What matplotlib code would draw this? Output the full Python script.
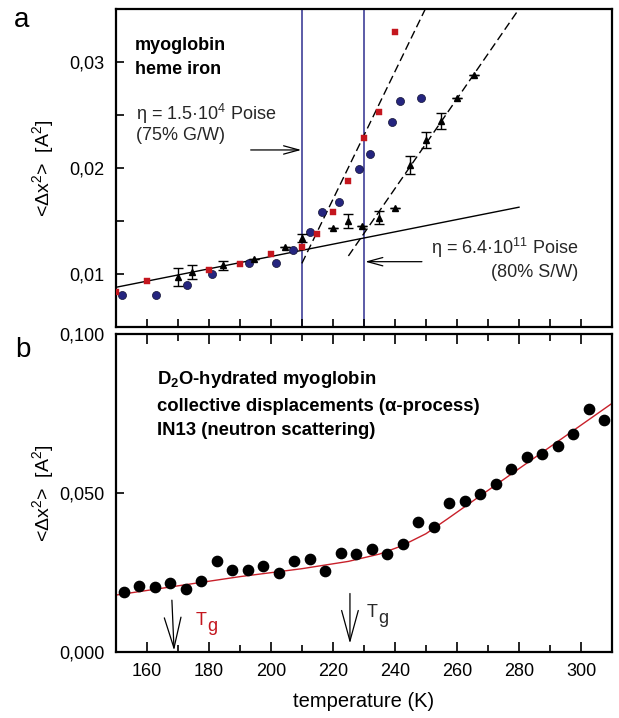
import matplotlib
matplotlib.use('Agg')
import matplotlib.pyplot as plt
from matplotlib.ticker import FixedLocator, FuncFormatter

plt.rcParams['font.family'] = ['Liberation Sans', 'DejaVu Sans']
plt.rcParams['mathtext.fontset'] = 'custom'
plt.rcParams['mathtext.rm'] = 'Liberation Sans'
plt.rcParams['mathtext.it'] = 'Liberation Sans'
plt.rcParams['mathtext.bf'] = 'Liberation Sans:bold'
plt.rcParams['mathtext.default'] = 'rm'

# panel a: heme iron (Moessbauer)
red_T = [150, 160, 180, 190, 200, 210, 215, 220, 225, 230, 235, 240]
red_y = [0.0083, 0.0093, 0.0104, 0.0109, 0.0119, 0.0125, 0.0138, 0.0158,
         0.0188, 0.0228, 0.0253, 0.0328]

blue_T = [152, 163, 173, 181, 193, 201.5, 207, 212.5, 216.5, 222, 228.5,
          232, 239, 241.5, 248.5]
blue_y = [0.0080, 0.0080, 0.0090, 0.0100, 0.0110, 0.0110, 0.0123, 0.0140,
          0.0158, 0.0168, 0.0199, 0.0213, 0.0243, 0.0263, 0.0266]

tri_T = [170, 174.5, 184.5, 194.5, 204.5, 210, 220, 225, 229.5, 235, 240,
         245, 250, 255, 260, 265.5]
tri_y = [0.00975, 0.0102, 0.0108, 0.0114, 0.0125, 0.0134, 0.0143, 0.0150,
         0.0145, 0.0153, 0.0162, 0.0203, 0.0226, 0.0244, 0.0266, 0.0288]
tri_err = [0.00085, 0.00066, 0.00047, 0, 0, 0.0004, 0, 0.0007, 0, 0.00063,
           0, 0.00085, 0.00076, 0.00076, 0, 0]

solid_T = [150, 280]
solid_y = [0.00874, 0.0163]
dash1_T = [210, 249.8]
dash1_y = [0.0110, 0.035]
dash2_T = [225, 280]
dash2_y = [0.0117, 0.035]
vlines_T = [210, 230]

# panel b: neutron scattering IN13
b_T = [152.5 + 5 * i for i in range(32)]
b_y = [0.0189, 0.0208, 0.0203, 0.0217, 0.0197, 0.0223, 0.0287, 0.0258,
       0.0258, 0.0270, 0.0248, 0.0287, 0.0294, 0.0256, 0.0311, 0.0308,
       0.0325, 0.0307, 0.0340, 0.0409, 0.0393, 0.0470, 0.0476, 0.0498,
       0.0529, 0.0574, 0.0614, 0.0623, 0.0649, 0.0687, 0.0763, 0.0731]

fit_T = [150, 170, 190, 210, 225, 235, 242, 250, 257, 265, 290, 310]
fit_y = [0.0179, 0.0208, 0.0237, 0.0262, 0.0285, 0.0308, 0.0333, 0.0372,
         0.0419, 0.0474, 0.0645, 0.0782]

tg_T = [168.5, 225.5]

navy = '#25257f'
red = '#c4161e'
line_navy = '#2f2f8f'

fig = plt.figure(figsize=(6.19, 7.18), dpi=100)
ax_a = fig.add_axes([0.187, 0.5446, 0.8018, 0.4429])
ax_b = fig.add_axes([0.187, 0.0919, 0.8018, 0.4429])

comma = lambda nd: FuncFormatter(lambda v, p: ('%.*f' % (nd, v)).replace('.', ','))

# ---- panel a ----
for t in vlines_T:
    ax_a.axvline(t, color=line_navy, lw=1.1, zorder=1)
ax_a.plot(solid_T, solid_y, color='black', lw=1.0, zorder=2)
ax_a.plot(dash1_T, dash1_y, color='black', lw=1.0, dashes=(6, 3), zorder=2)
ax_a.plot(dash2_T, dash2_y, color='black', lw=1.0, dashes=(6, 3), zorder=2)

ax_a.plot(blue_T, blue_y, 'o', ms=5.8, mfc=navy, mec='#111133', mew=0.5, zorder=3)
ax_a.plot(red_T, red_y, 's', ms=4.4, mfc=red, mec=red, mew=0.3, zorder=4)
ax_a.errorbar(tri_T, tri_y, yerr=tri_err, fmt='^', ms=4.8, color='black',
              ecolor='black', elinewidth=1.0, capsize=3.3, capthick=1.0, zorder=5)

ax_a.set_xlim(150, 310)
ax_a.set_ylim(0.005, 0.035)
ax_a.xaxis.set_major_locator(FixedLocator(range(160, 310, 10)))
ax_a.yaxis.set_major_locator(FixedLocator([0.01, 0.02, 0.03]))
ax_a.yaxis.set_minor_locator(FixedLocator([0.015, 0.025]))
ax_a.yaxis.set_major_formatter(comma(2))
ax_a.tick_params(axis='x', direction='in', length=6, width=1.2, labelbottom=False)
ax_a.tick_params(axis='y', which='both', direction='in', length=6, width=1.2,
                 labelsize=13, pad=8)
ax_a.set_ylabel('<Δx$^2$>  [A$^2$]', fontsize=14)
ax_a.yaxis.set_label_coords(-0.12, 0.5)

ax_a.text(156.2, 0.0311, 'myoglobin', fontsize=13, fontweight='bold')
ax_a.text(156.2, 0.0289, 'heme iron', fontsize=13, fontweight='bold')
ax_a.text(156.5, 0.02456, 'η = 1.5·10$^4$ Poise', fontsize=13, color='#262626')
ax_a.text(156.5, 0.0226, '(75% G/W)', fontsize=13, color='#262626')
ax_a.text(299.2, 0.01189, 'η = 6.4·10$^{11}$ Poise', fontsize=13,
          color='#262626', ha='right')
ax_a.text(299.2, 0.00974, '(80% S/W)', fontsize=13, color='#262626', ha='right')
ax_a.annotate('', xy=(209.8, 0.0217), xytext=(193.5, 0.0217),
              arrowprops=dict(arrowstyle='->,head_length=1.1,head_width=0.3',
                              lw=0.9, color='black', mutation_scale=10,
                              shrinkA=0, shrinkB=0))
ax_a.annotate('', xy=(230.4, 0.01116), xytext=(248.7, 0.01116),
              arrowprops=dict(arrowstyle='->,head_length=1.1,head_width=0.3',
                              lw=0.9, color='black', mutation_scale=10,
                              shrinkA=0, shrinkB=0))

# ---- panel b ----
ax_b.plot(fit_T, fit_y, color='#c8202a', lw=1.0, zorder=2)
ax_b.plot(b_T, b_y, 'o', ms=7.4, color='black', zorder=3)

ax_b.set_xlim(150, 310)
ax_b.set_ylim(0, 0.1)
ax_b.xaxis.set_major_locator(FixedLocator(range(160, 310, 20)))
ax_b.xaxis.set_minor_locator(FixedLocator(range(170, 310, 20)))
ax_b.yaxis.set_major_locator(FixedLocator([0, 0.05, 0.1]))
ax_b.yaxis.set_major_formatter(comma(3))
ax_b.tick_params(axis='x', which='major', direction='in', length=7, width=1.2,
                 top=True, labelsize=13, pad=8)
ax_b.tick_params(axis='x', which='minor', direction='in', length=5, width=1.2,
                 top=True)
ax_b.tick_params(axis='y', direction='in', length=6, width=1.2, labelsize=13, pad=8)
ax_b.set_ylabel('<Δx$^2$>  [A$^2$]', fontsize=14)
ax_b.yaxis.set_label_coords(-0.12, 0.5)
ax_b.set_xlabel('temperature (K)', fontsize=14.5)
ax_b.xaxis.set_label_coords(0.5, -0.125)

ax_b.text(163.2, 0.0842, 'D$\\mathbf{_2}$O-hydrated myoglobin', fontsize=13.3,
          fontweight='bold')
ax_b.text(163.2, 0.0758, 'collective displacements (α-process)', fontsize=13.3,
          fontweight='bold')
ax_b.text(163.2, 0.0684, 'IN13 (neutron scattering)', fontsize=13.3,
          fontweight='bold')

ax_b.annotate('', xy=(tg_T[0] + 0.3, 0.0005), xytext=(tg_T[0] - 0.4, 0.0163),
              arrowprops=dict(arrowstyle='->,head_length=2.2,head_width=0.6',
                              lw=0.9, color='black', mutation_scale=10,
                              shrinkA=0, shrinkB=0))
ax_b.annotate('', xy=(tg_T[1], 0.0027), xytext=(tg_T[1], 0.0184),
              arrowprops=dict(arrowstyle='->,head_length=2.2,head_width=0.6',
                              lw=0.9, color='black', mutation_scale=10,
                              shrinkA=0, shrinkB=0))
# T_g labels: subscript drawn nearly full size, as in the original
ax_b.text(175.6, 0.00843, 'T', fontsize=13, color='#c4161e')
ax_b.text(179.5, 0.00666, 'g', fontsize=13, color='#c4161e')
ax_b.text(231.0, 0.01105, 'T', fontsize=13, color='#2a2a2a')
ax_b.text(234.7, 0.00906, 'g', fontsize=13, color='#2a2a2a')

for ax in (ax_a, ax_b):
    for s in ax.spines.values():
        s.set_linewidth(1.6)

fig.text(0.022, 0.962, 'a', fontsize=20)
fig.text(0.025, 0.503, 'b', fontsize=20)

fig.savefig('out.png', dpi=100)
